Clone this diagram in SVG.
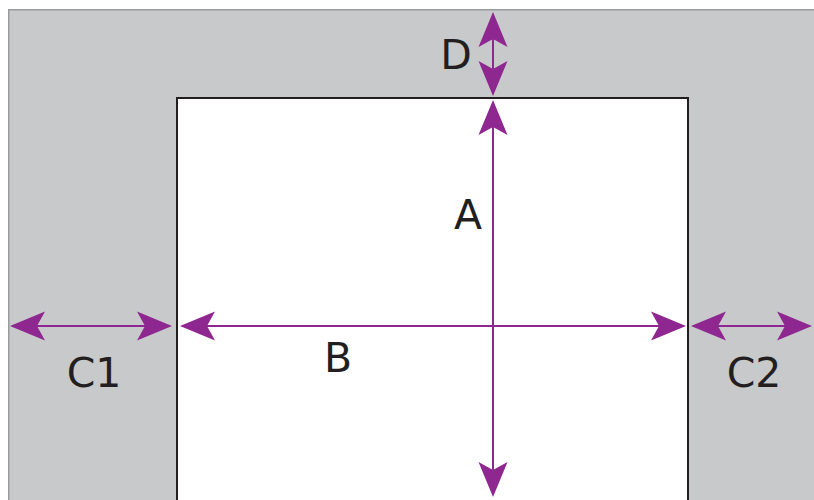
<svg xmlns="http://www.w3.org/2000/svg" width="814" height="500" viewBox="0 0 814 500">
  <style>
    .lbl { font-family: "DejaVu Sans", Verdana, sans-serif; font-size: 41px; fill: #231f20; text-anchor: middle; }
    .dim { stroke: #8e278f; stroke-width: 2; fill: none; marker-start: url(#ah); marker-end: url(#ah); }
  </style>
  <defs>
    <marker id="ah" viewBox="-37 -16 38 32" refX="-2" refY="0" markerWidth="38" markerHeight="32" markerUnits="userSpaceOnUse" orient="auto-start-reverse">
      <path d="M0,0 L-35,-14.5 L-27,0 L-35,14.5 Z" fill="#8e278f"/>
    </marker>
  </defs>
  <g id="frame">
    <rect x="8.75" y="9.75" width="815" height="500" fill="#c8c9cb" stroke="#9a9b9d" stroke-width="1.5"/>
  </g>
  <g id="page">
    <rect x="177" y="98" width="511" height="410" fill="#ffffff" stroke="#231f20" stroke-width="2"/>
  </g>
  <g id="connectors">
    <line class="dim" x1="493" y1="14" x2="493" y2="94"/>
    <line class="dim" x1="493" y1="102" x2="493" y2="495"/>
    <line class="dim" x1="182" y1="326" x2="684" y2="326"/>
    <line class="dim" x1="12" y1="326" x2="170" y2="326"/>
    <line class="dim" x1="693" y1="326" x2="810" y2="326"/>
  </g>
  <g id="labels">
    <text class="lbl" x="456" y="69">D</text>
    <text class="lbl" x="468" y="229">A</text>
    <text class="lbl" x="338" y="372">B</text>
    <text class="lbl" x="94" y="387">C1</text>
    <text class="lbl" x="754" y="387">C2</text>
  </g>
</svg>
